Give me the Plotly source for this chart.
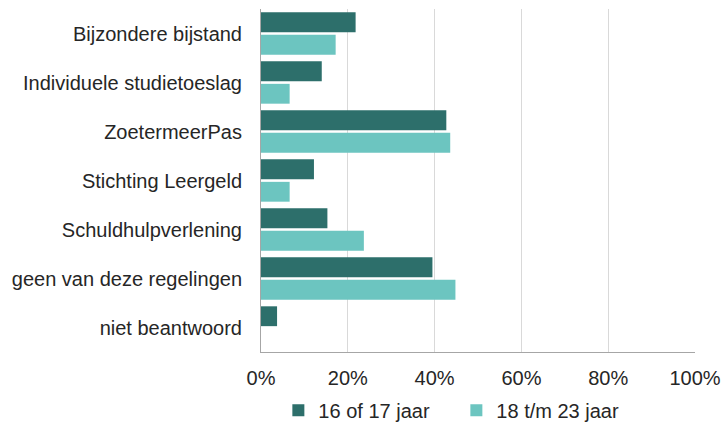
import plotly.graph_objects as go

categories = ["Bijzondere bijstand", "Individuele studietoeslag", "ZoetermeerPas",
              "Stichting Leergeld", "Schuldhulpverlening", "geen van deze regelingen",
              "niet beantwoord"]
series_names = ["16 of 17 jaar", "18 t/m 23 jaar"]
values_16_17 = [21.8, 14.0, 42.7, 12.2, 15.3, 39.5, 3.7]
values_18_23 = [17.2, 6.6, 43.6, 6.6, 23.7, 44.8, 0.0]
x_ticks = [0, 20, 40, 60, 80, 100]
x_tick_labels = ["0%", "20%", "40%", "60%", "80%", "100%"]

colors = ["#2D6F6B", "#6CC5C0"]
font = dict(family="Liberation Sans, Arial, sans-serif", size=20, color="#262626")

fig = go.Figure()
for name, vals, c in zip(series_names, [values_16_17, values_18_23], colors):
    fig.add_trace(go.Bar(y=categories, x=vals, name=name, orientation="h",
                         marker=dict(color=c, line=dict(width=0))))

fig.update_layout(
    width=724, height=423,
    margin=dict(l=261, r=29, t=9, b=71, autoexpand=False),
    paper_bgcolor="white", plot_bgcolor="white",
    barmode="group", bargap=0.08, bargroupgap=0.12,
    font=font,
    legend=dict(orientation="h", x=0.04, xanchor="left", y=-0.17, yanchor="middle",
                font=font, itemwidth=30, traceorder="normal",
                entrywidth=133, entrywidthmode="pixels"),
    showlegend=True,
)
fig.update_xaxes(range=[0, 100], tickvals=x_ticks, ticktext=x_tick_labels,
                 showgrid=True, gridcolor="#D9D9D9", gridwidth=1,
                 showline=True, linecolor="#A6A6A6", linewidth=1,
                 zeroline=False, ticklabelstandoff=8, tickfont=font,
                 automargin=False, fixedrange=True)
fig.update_yaxes(autorange="reversed", showgrid=False,
                 showline=True, linecolor="#A6A6A6", linewidth=1,
                 ticklabelstandoff=14, tickfont=font,
                 automargin=False, fixedrange=True)

fig.write_html("out.html", config={"displayModeBar": False},
               post_script="document.body.style.margin='0';document.body.style.overflow='hidden';")
